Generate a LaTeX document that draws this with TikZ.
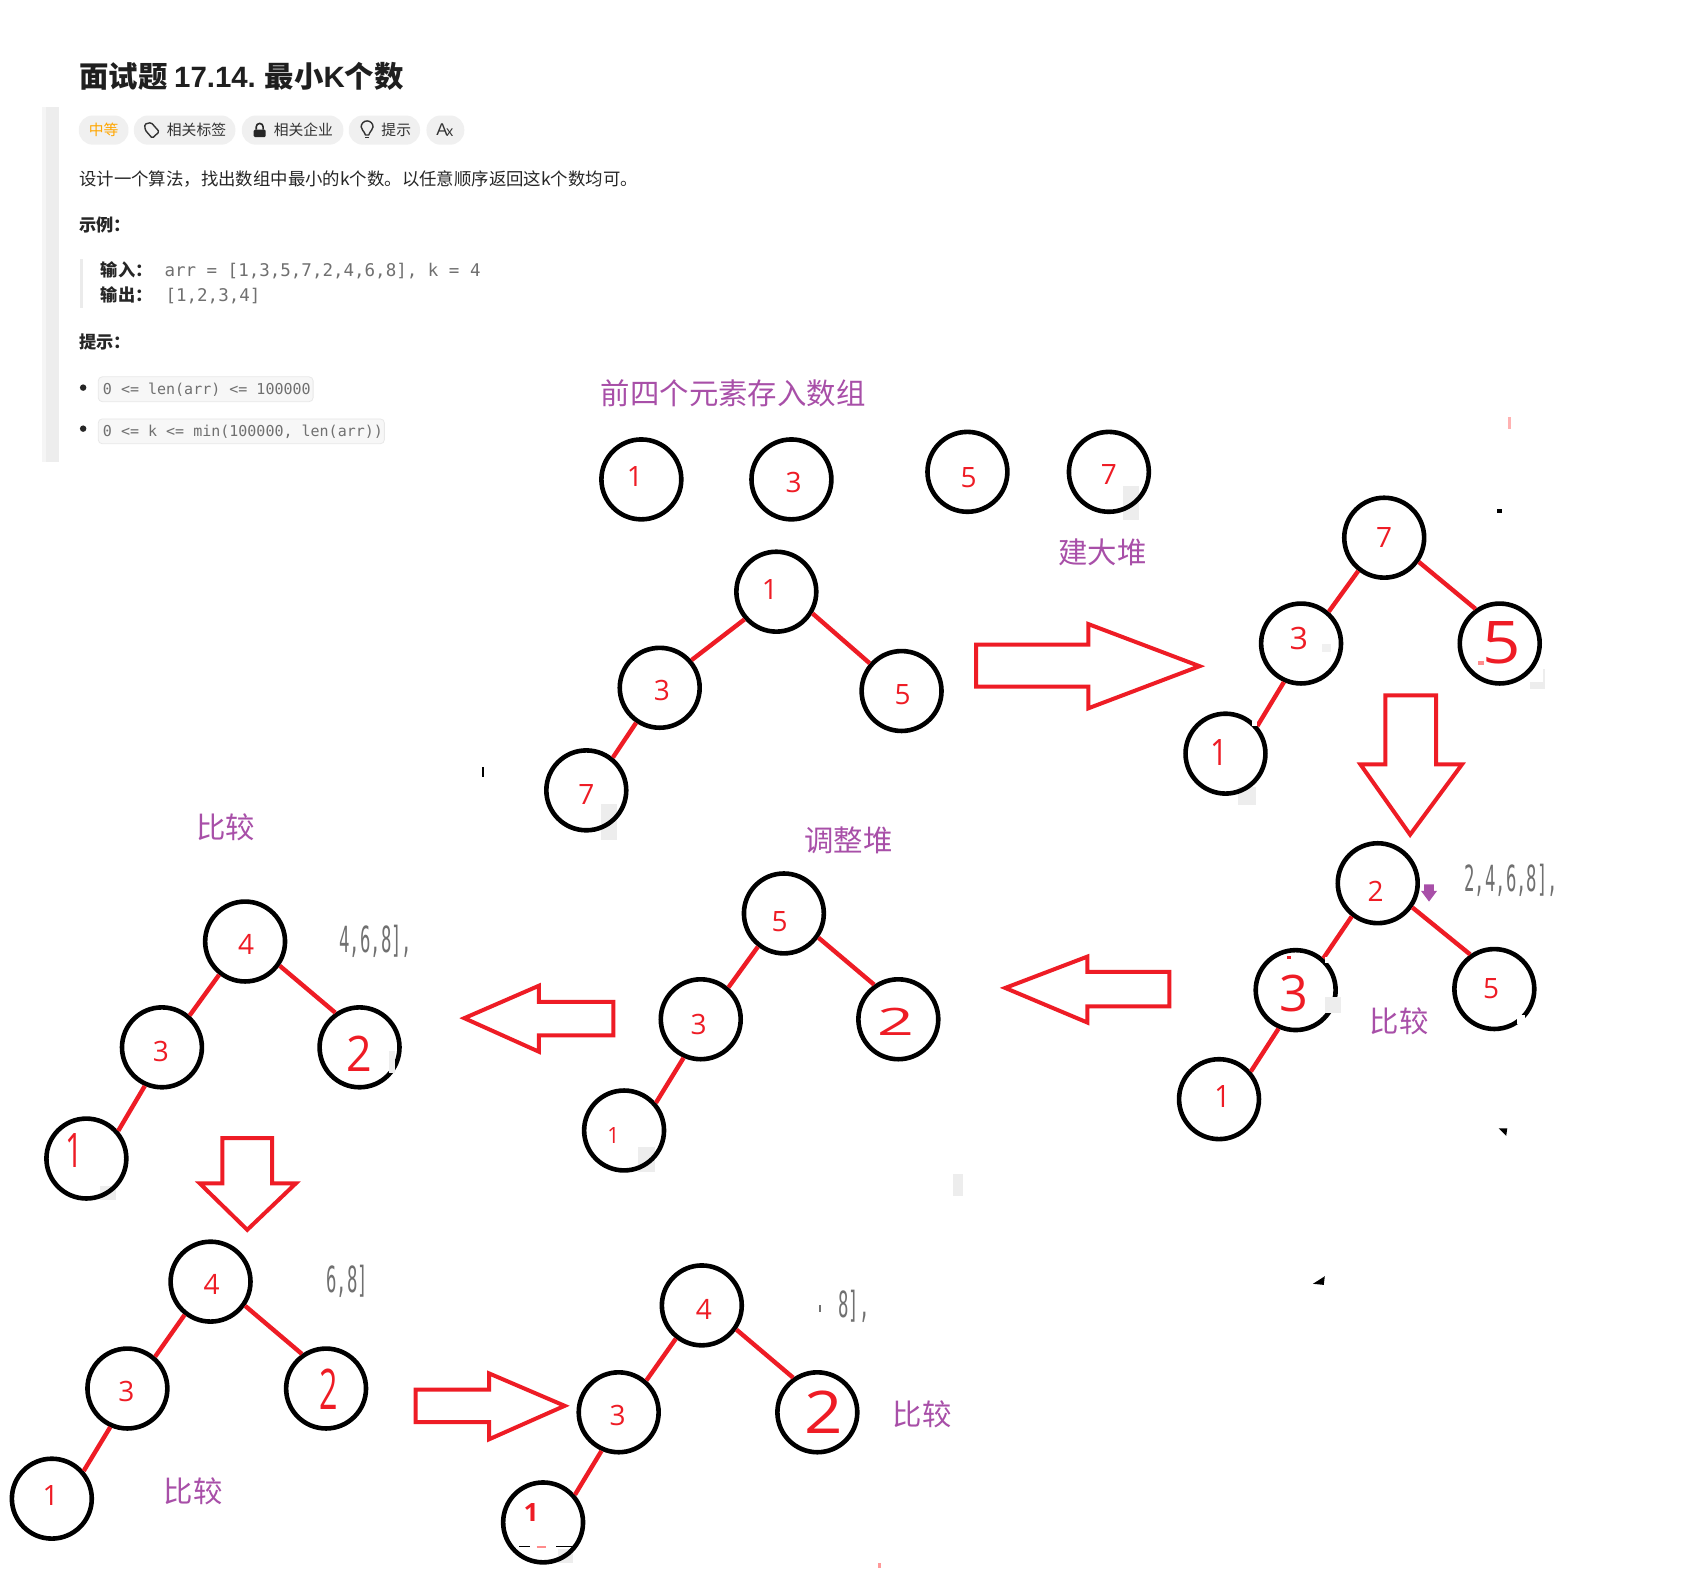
\documentclass[tikz,border=0pt]{standalone}
\usepackage{fontspec}
\setmainfont{Noto Sans CJK SC}
\newfontfamily\dgfont{Open Sans}
\newfontfamily\codefont{DejaVu Sans Mono}
\newfontfamily\latinfont{Liberation Sans}
\definecolor{hred}{HTML}{EE1C25}
\definecolor{hpurple}{HTML}{A84FA8}
\definecolor{pillgray}{HTML}{F0F0F0}
\definecolor{codegray}{HTML}{707070}
\newlength{\punit}
\setlength{\punit}{0.53985pt}
\tikzset{
  heapc/.style={circle,draw=black,line width=2.3pt,minimum size=74\punit,inner sep=0pt,fill=none},
  edgeline/.style={draw=hred,line width=2.2pt},
  bigarrow/.style={draw=hred,line width=2pt,miter limit=10,fill=white},
  plabel/.style={text=hpurple,font=\fontsize{14.7}{16}\selectfont,inner sep=0pt},
  digit/.style={text=hred,font=\dgfont\fontsize{14}{16}\selectfont,inner sep=0pt,yshift=-0.5pt},
  side/.style={text=codegray,font=\codefont\fontsize{18}{20}\selectfont,inner sep=0pt,anchor=west},
  txt/.style={text=black!85,font=\fontsize{8.7}{10}\selectfont,inner sep=0pt,anchor=west},
  btxt/.style={text=black!85,font=\bfseries\fontsize{8.6}{10}\selectfont,inner sep=0pt,anchor=west},
  code/.style={text=codegray,font=\codefont\fontsize{8.75}{10}\selectfont,inner sep=0pt,anchor=west},
  scode/.style={text=codegray,font=\codefont\fontsize{7.5}{9}\selectfont,inner sep=0pt,anchor=west},
  pill/.style={fill=pillgray,rounded corners=7pt,draw=none},
  chip/.style={fill=black!3,draw=black!9,line width=.4pt,rounded corners=2pt},
  pilltxt/.style={text=black!80,font=\fontsize{7.4}{9}\selectfont,inner sep=0pt},
  patch/.style={fill=black!7,draw=none},
  speck/.style={fill=black,draw=none},
}
% heap tree: prefix, four centres
\newcommand{\heaptree}[5]{%
  \node[heapc] (#1a) at (#2) {};
  \node[heapc] (#1b) at (#3) {};
  \node[heapc] (#1c) at (#4) {};
  \node[heapc] (#1d) at (#5) {};
  \draw[edgeline] (#1a.232) -- (#1b.49);
  \draw[edgeline] (#1a.-35) -- (#1c.125);
  \draw[edgeline] (#1b.246) -- (#1d.41);
}
% digit: name, position, xscale, yscale, char
\newcommand{\dg}[5]{\node[digit] (#1) at (#2) {\scalebox{#3}[#4]{#5}};}
\newcommand{\sidetext}[3]{\node[side] (#1) at (#2) {\scalebox{0.48}[1]{#3}};}
\begin{document}
\begin{tikzpicture}[x=0.53985pt,y=-0.53985pt]
\useasboundingbox (0,0) rectangle (1568,1470);
\fill[white] (0,0) rectangle (1568,1470);
% header
\node[inner sep=0pt,anchor=west,text=black!88,font=\bfseries\fontsize{14.7}{17}\selectfont] (title) at (73,70.5) {面试题 {\latinfont 17.14.} 最小{\latinfont K}个数};
\fill[black!4] (39,99) rectangle (43,428);
\fill[black!7] (43,99) rectangle (55,428);
\fill[pill] (73,107) rectangle (119,134);
\fill[pill] (124,107) rectangle (218,134);
\fill[pill] (224,107) rectangle (318,134);
\fill[pill] (323,107) rectangle (389,134);
\fill[pill] (395,107) rectangle (430,134);
\node[pilltxt,text=orange!70!yellow] (pa) at (96,120.5) {中等};
\node[pilltxt] (pb) at (182,120.5) {相关标签};
\node[pilltxt] (pc) at (281,120.5) {相关企业};
\node[pilltxt] (pd) at (367,120.5) {提示};
\node[pilltxt,font=\latinfont\fontsize{8.5}{9}\selectfont] (pe) at (412,120.5) {A\kern-.8pt\raisebox{-.3pt}{\scalebox{.85}{x}}};
% icons
\draw[black!80,line width=.7pt,line join=round,rounded corners=.7pt] (134,115) -- (140,113.5) -- (147.5,122) -- (141,128) -- (134.5,120.5) -- cycle;
\fill[black!85,rounded corners=.6pt] (235,120) rectangle (246,127);
\draw[black!85,line width=.8pt] (237.3,120) -- (237.3,117.5) arc[start angle=180,end angle=360,radius=3.2] -- (243.7,120);
\draw[black!80,line width=.7pt] (338.5,125) .. controls (337,121) and (334.5,120) .. (334.5,117.5) arc[start angle=180,end angle=360,radius=5.5] .. controls (345.5,120) and (343,121) .. (341.5,125) -- cycle;
\draw[black!80,line width=.7pt] (338.5,127.5) -- (341.5,127.5);
\node[txt] (desc) at (73,165.5) {设计一个算法，找出数组中最小的k个数。以任意顺序返回这k个数均可。};
\node[btxt] (ex) at (73,208) {示例：};
\fill[black!8] (74,240) rectangle (77,285);
\node[btxt] (inl) at (93,250) {输入：};
\node[code] (inv) at (152,251) {arr = [1,3,5,7,2,4,6,8], k = 4};
\node[btxt] (outl) at (93,273) {输出：};
\node[code] (outv) at (153,274) {[1,2,3,4]};
\node[btxt] (hint) at (73,316.5) {提示：};
\fill[black!85] (77,359) circle (3);
\fill[black!85] (77,397) circle (3);
\path[chip] (91,349) rectangle (290,372);
\path[chip] (91,388) rectangle (356,411);
\node[scode] (ca) at (95,361) {0 <= len(arr) <= 100000};
\node[scode] (cb) at (95,400) {0 <= k <= min(100000, len(arr))};
% labels
\node[plabel] (l1) at (679,364) {前四个元素存入数组};
\node[plabel] (l2) at (1021,512) {建大堆};
\node[plabel] (l3) at (786,778) {调整堆};
\node[plabel] (l4) at (209,766) {比较};
\node[plabel] (l5) at (1296,946) {比较};
\node[plabel] (l6) at (854,1310) {比较};
\node[plabel] (l7) at (179,1381) {比较};
% patches beneath the circles
\fill[patch] (1040,450) rectangle (1055,482);
\fill[patch] (557,745) rectangle (571,778);
\fill[patch] (1417,632) rectangle (1431,638);
\fill[patch] (1429,620) rectangle (1431,638);
\fill[patch] (1147,729) rectangle (1163,746);
\fill[patch] (591,1062) rectangle (607,1085);
\fill[patch] (93,1098) rectangle (107,1111);
\fill[patch] (517,1435) rectangle (531,1448);
\fill[patch] (883,1087) rectangle (892,1108);
% row of four
\node[heapc] (r1) at (594,444) {};
\node[heapc] (r2) at (733,444) {};
\node[heapc] (r3) at (896,437) {};
\node[heapc] (r4) at (1027,437) {};
% trees
\node[heapc] (taa) at (719,548) {};
\node[heapc] (tab) at (611,637) {};
\node[heapc] (tac) at (835,640) {};
\node[heapc] (tad) at (543,732) {};
\draw[edgeline] (taa.221) -- (tab.41);
\draw[edgeline] (taa.-31) -- (tac.139);
\draw[edgeline] (tab.236) -- (tad.51);
\heaptree{tb}{1282,498}{1205,596}{1389,596}{1135,698}
\heaptree{tc}{1276,818}{1200,917}{1384,916}{1129,1018}
\heaptree{td}{726,846}{649,944}{832,944}{578,1047}
\heaptree{te}{227,872}{150,970}{333,970}{80,1073}
\heaptree{tf}{195,1187}{118,1286}{302,1286}{48,1388}
\heaptree{tg}{650,1209}{573,1308}{757,1308}{503,1410}
% marks over the circles
\fill[patch] (1227,923) rectangle (1242,938);
\fill[patch] (360,973) rectangle (366,994);
\fill[black!6] (1224,596) rectangle (1233,604);
\fill[white] (1405,940) rectangle (1412,948);
\fill[white] (1227,886) rectangle (1231,892);
\fill[white] (1160,668) rectangle (1164,672);
\draw[black,line width=.6pt] (481,1432) -- (491,1432) (515,1432) -- (530,1432);
\draw[red!45,line width=.8pt] (497,1433) -- (506,1433);
\fill[red!45] (1369,612) rectangle (1374,616);
\fill[hred] (1192,885.5) rectangle (1196,888.5);
% digits
\dg{dr1}{588,440}{1}{1}{1}
\dg{dr2}{735,446}{1}{1}{3}
\dg{dr3}{897,441}{1}{1}{5}
\dg{dr4}{1027,439}{1}{1}{7}
\dg{da1}{713,545}{1}{1}{1}
\dg{da2}{613,639}{1}{1}{3}
\dg{da3}{836,642}{1}{1}{5}
\dg{da4}{543,735}{1}{1}{7}
\dg{db1}{1282,497}{1}{1}{7}
\dg{db2}{1203,590}{1.15}{1.1}{3}
\dg{db3}{1391,594}{2.4}{2.1}{5}
\dg{db4}{1129,696}{1.1}{1.3}{1}
\dg{dc1}{1274,825}{1}{1}{2}
\dg{dc2}{1198,919}{1.8}{1.8}{3}
\dg{dc3}{1381,915}{1}{1}{5}
\dg{dc4}{1132,1015}{1}{1.1}{1}
\dg{dd1}{722,853}{1}{1}{5}
\dg{dd2}{647,948}{1}{1}{3}
\dg{dd3}{830,945.5}{2.3}{1.35}{2}
\dg{dd4}{568,1051}{.75}{.8}{1}
\dg{de1}{228,874}{1}{1}{4}
\dg{de2}{149,973}{1}{1}{3}
\dg{de3}{333,975}{1.6}{1.75}{2}
\dg{de4}{69,1065}{1.1}{1.7}{1}
\dg{df1}{196,1189}{1}{1}{4}
\dg{df2}{117,1288}{1}{1}{3}
\dg{df3}{304,1286}{1.15}{2}{2}
\dg{df4}{47,1384}{1}{1}{1}
\dg{dg1}{652,1212}{1}{1}{4}
\dg{dg2}{572,1310}{1}{1}{3}
\dg{dg3}{763,1307}{2.4}{2.1}{2}
\dg{dg4}{492,1400}{.95}{.9}{\bfseries 1}
% side numbers
\sidetext{sa}{1356,815.5}{2,4,6,8],}
\sidetext{sb}{314,872}{4,6,8],}
\sidetext{sc}{302,1187}{6,8]}
\sidetext{sd}{776,1209.5}{8],}
% arrows
\draw[bigarrow] (904,597) -- (1008,597) -- (1008,578) -- (1111,617) -- (1008,656) -- (1008,636) -- (904,636) -- cycle;
\draw[bigarrow] (1283,644) -- (1330,644) -- (1330,708) -- (1354,708) -- (1306,773) -- (1260,708) -- (1283,708) -- cycle;
\draw[bigarrow] (931,915) -- (1007,886) -- (1007,900) -- (1083,900) -- (1083,932) -- (1007,932) -- (1007,947) -- cycle;
\draw[bigarrow] (430,943) -- (499,913) -- (499,928) -- (568,928) -- (568,959) -- (499,959) -- (499,974) -- cycle;
\draw[bigarrow] (206,1054) -- (252,1054) -- (252,1096) -- (274,1096) -- (229,1139) -- (185,1096) -- (206,1096) -- cycle;
\draw[bigarrow] (385,1287) -- (453,1287) -- (453,1272) -- (523,1302) -- (453,1333) -- (453,1317) -- (385,1317) -- cycle;
% small marks
\fill[hpurple] (1319,819) -- (1328,819) -- (1328,825) -- (1331,825) -- (1323.5,835) -- (1316,825) -- (1319,825) -- cycle;
\fill[speck] (1386,471) rectangle (1391,475);
\fill[speck] (446,710) rectangle (448,720);
\fill[speck] (1388,1045) -- (1396,1045) -- (1395,1052) -- cycle;
\fill[speck] (1216,1189) -- (1227,1182) -- (1226,1190) -- cycle;
\fill[red!30] (1397,386) rectangle (1399,397);
\fill[red!40] (813,1448) rectangle (816,1452);
\fill[codegray] (758.5,1209) rectangle (760,1215);
\end{tikzpicture}
\end{document}
